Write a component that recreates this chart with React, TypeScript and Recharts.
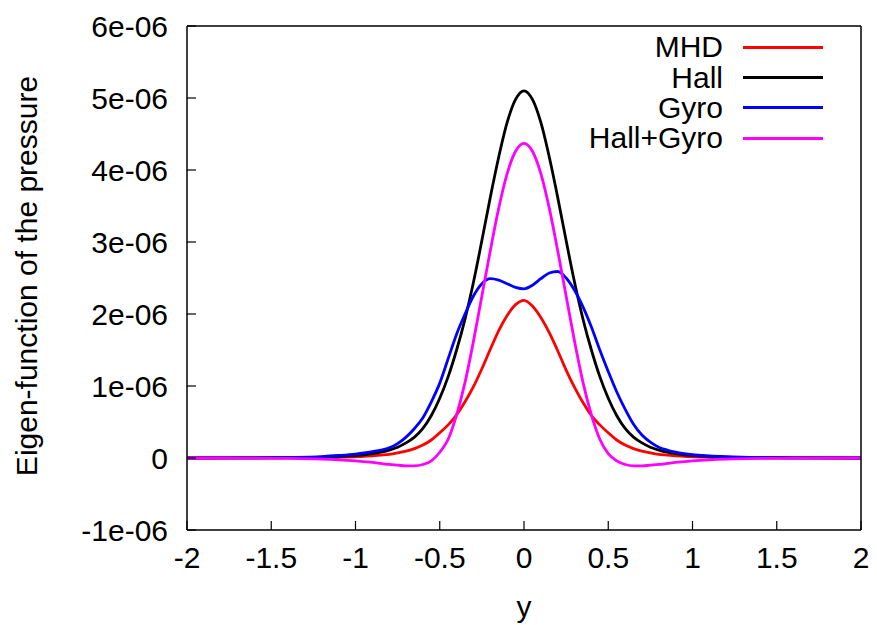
import React from 'react';
import { LineChart, Line, XAxis, YAxis, Legend } from 'recharts';

// y coordinate samples
const xs = [
  -2, -1.8, -1.6, -1.4, -1.2, -1.1,
  -1.0, -0.95, -0.9, -0.85, -0.8, -0.75, -0.7, -0.65, -0.6, -0.55, -0.5, -0.45, -0.4, -0.35, -0.3, -0.25, -0.2, -0.15, -0.1, -0.05,
  0,
  0.05, 0.1, 0.15, 0.2, 0.25, 0.3, 0.35, 0.4, 0.45, 0.5, 0.55, 0.6, 0.65, 0.7, 0.75, 0.8, 0.85, 0.9, 0.95, 1.0,
  1.1, 1.2, 1.4, 1.6, 1.8, 2,
];

// values in units of 1e-06
const mhd = [
  0, 0, 0.001, 0.002, 0.006, 0.01,
  0.017, 0.022, 0.03, 0.04, 0.05, 0.07, 0.095, 0.13, 0.18, 0.25, 0.35, 0.46, 0.6, 0.78, 0.99, 1.24, 1.51, 1.77, 1.98, 2.13,
  2.19,
  2.11, 1.95, 1.74, 1.49, 1.22, 0.98, 0.77, 0.59, 0.46, 0.35, 0.25, 0.18, 0.13, 0.095, 0.07, 0.05, 0.04, 0.03, 0.022, 0.017,
  0.01, 0.006, 0.002, 0.001, 0, 0,
];

const hall = [
  0, 0.001, 0.002, 0.005, 0.012, 0.02,
  0.035, 0.045, 0.06, 0.08, 0.11, 0.15, 0.21, 0.29, 0.41, 0.59, 0.83, 1.13, 1.5, 1.93, 2.44, 3.02, 3.62, 4.18, 4.66, 4.98,
  5.1,
  4.98, 4.66, 4.18, 3.62, 3.02, 2.44, 1.93, 1.5, 1.13, 0.83, 0.59, 0.41, 0.29, 0.21, 0.15, 0.11, 0.08, 0.06, 0.045, 0.035,
  0.02, 0.012, 0.005, 0.002, 0.001, 0,
];

const gyro = [
  0, 0.001, 0.003, 0.008, 0.02, 0.035,
  0.055, 0.07, 0.09, 0.11, 0.14, 0.2, 0.29, 0.41, 0.56, 0.78, 1.04, 1.38, 1.72, 2.0, 2.25, 2.42, 2.49, 2.47, 2.42, 2.37,
  2.35,
  2.4, 2.49, 2.57, 2.59, 2.5, 2.33, 2.1, 1.82, 1.5, 1.2, 0.92, 0.68, 0.47, 0.32, 0.22, 0.15, 0.11, 0.08, 0.06, 0.045,
  0.03, 0.02, 0.008, 0.003, 0.001, 0,
];

const hallGyro = [
  0, 0, -0.002, -0.005, -0.015, -0.025,
  -0.04, -0.05, -0.06, -0.075, -0.09, -0.1, -0.11, -0.11, -0.09, -0.04, 0.08, 0.26, 0.6, 1.05, 1.62, 2.25, 2.88, 3.47, 3.95, 4.26,
  4.37,
  4.26, 3.95, 3.47, 2.88, 2.25, 1.62, 1.05, 0.6, 0.26, 0.06, -0.04, -0.09, -0.11, -0.11, -0.1, -0.09, -0.075, -0.06, -0.05, -0.04,
  -0.025, -0.015, -0.005, -0.002, 0, 0,
];

const xTicks = [-2, -1.5, -1, -0.5, 0, 0.5, 1, 1.5, 2];
const yTicks = [-1, 0, 1, 2, 3, 4, 5, 6];

const seriesKeys = ['mhd', 'hall', 'gyro', 'hallGyro'];
const seriesNames = ['MHD', 'Hall', 'Gyro', 'Hall+Gyro'];
const seriesColors = ['#ff0000', '#000000', '#0000ff', '#ff00ff'];

const data = xs.map((x, i) => ({
  x,
  mhd: mhd[i],
  hall: hall[i],
  gyro: gyro[i],
  hallGyro: hallGyro[i],
}));

const FONT = '"Liberation Sans", Arial, Helvetica, sans-serif';
const FS = 30;

const fmtY = (v: number) => (v === 0 ? '0' : `${v}e-06`);
const fmtX = (v: number) => String(v);

const YTitle = () => (
  <text
    x={37}
    y={276}
    transform="rotate(-90 37 276)"
    textAnchor="middle"
    fontSize={FS}
    fontFamily={FONT}
    fill="#000"
  >
    Eigen-function of the pressure
  </text>
);

const XTitle = () => (
  <text
    x={524}
    y={606}
    textAnchor="middle"
    dominantBaseline="central"
    fontSize={FS}
    fontFamily={FONT}
    fill="#000"
  >
    y
  </text>
);

const LegendContent = () => (
  <div style={{ fontFamily: FONT, fontSize: FS, color: '#000' }}>
    {seriesNames.map((name, i) => (
      <div key={name} style={{ display: 'flex', alignItems: 'center', height: 30.4 }}>
        <span style={{ width: 183, textAlign: 'right', lineHeight: '30px', whiteSpace: 'nowrap' }}>{name}</span>
        <span style={{ marginLeft: 20, width: 80, height: 3, background: seriesColors[i], display: 'inline-block' }} />
      </div>
    ))}
  </div>
);

export default function App() {
  return (
    <div style={{ position: 'absolute', left: 0, top: 0, width: 877, height: 625, background: '#fff' }}>
      <LineChart width={877} height={625} data={data} margin={{ top: 0, right: 0, bottom: 0, left: 0 }}>
        <XAxis
          xAxisId="b"
          dataKey="x"
          type="number"
          domain={[-2, 2]}
          ticks={xTicks}
          interval={0}
          orientation="bottom"
          height={95}
          tickSize={-9}
          tickMargin={26}
          tickFormatter={fmtX}
          axisLine={{ stroke: '#000', strokeWidth: 1.5 }}
          tickLine={{ stroke: '#000', strokeWidth: 1.2 }}
          tick={{ fontSize: FS, fill: '#000', fontFamily: FONT }}
          label={<XTitle />}
        />
        <XAxis
          xAxisId="t"
          dataKey="x"
          type="number"
          domain={[-2, 2]}
          ticks={xTicks}
          interval={0}
          orientation="top"
          height={26}
          tickSize={-9}
          tick={false}
          axisLine={{ stroke: '#000', strokeWidth: 1.5 }}
          tickLine={{ stroke: '#000', strokeWidth: 1.2 }}
        />
        <YAxis
          yAxisId="l"
          type="number"
          domain={[-1, 6]}
          ticks={yTicks}
          interval={0}
          orientation="left"
          width={187}
          tickSize={-9}
          tickMargin={28}
          tickFormatter={fmtY}
          axisLine={{ stroke: '#000', strokeWidth: 1.5 }}
          tickLine={{ stroke: '#000', strokeWidth: 1.2 }}
          tick={{ fontSize: FS, fill: '#000', fontFamily: FONT }}
          label={<YTitle />}
        />
        <YAxis
          yAxisId="r"
          type="number"
          domain={[-1, 6]}
          ticks={yTicks}
          interval={0}
          orientation="right"
          width={16}
          tickSize={-9}
          tick={false}
          axisLine={{ stroke: '#000', strokeWidth: 1.5 }}
          tickLine={{ stroke: '#000', strokeWidth: 1.2 }}
        />
        {seriesKeys.map((k, i) => (
          <Line
            key={k}
            xAxisId="b"
            yAxisId="l"
            type="monotone"
            dataKey={k}
            name={seriesNames[i]}
            stroke={seriesColors[i]}
            strokeWidth={2.8}
            dot={false}
            activeDot={false}
            isAnimationActive={false}
          />
        ))}
        <Legend
          layout="vertical"
          align="center"
          verticalAlign="middle"
          wrapperStyle={{ position: 'absolute', left: 540, top: 32, width: 310 }}
          content={LegendContent}
        />
      </LineChart>
    </div>
  );
}
